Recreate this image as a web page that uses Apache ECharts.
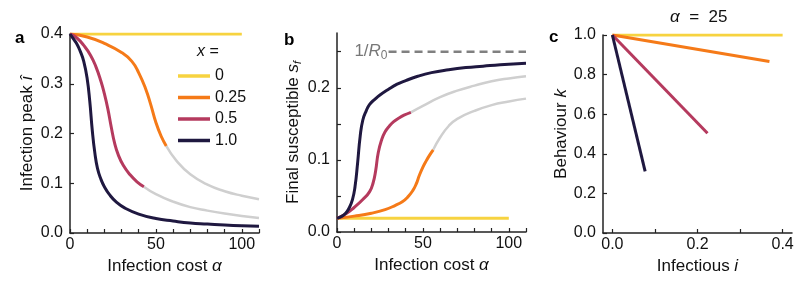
<!DOCTYPE html>
<html>
<head>
<meta charset="utf-8">
<script src="https://cdn.jsdelivr.net/npm/echarts@6/dist/echarts.min.js"></script>
<style>html,body{margin:0;padding:0;background:#fff}#c{width:811px;height:284px}</style>
</head>
<body>
<div id="c"></div>
<script>
// ---------- DATA ----------
const xLevels = ['0', '0.25', '0.5', '1.0'];
const colors = ['#F7D340', '#F57A18', '#B53A5E', '#1F1840'];
const grayColor = '#cfcfcf';
const R0 = 4;

// colored part ends at these alpha values (after them curve is gray)
const cutQuarter = 56;
const cutHalf = 43;

// Panel a: infection peak vs infection cost alpha
const alphaA0 = [0, 100];
const peakA0 = [0.4, 0.4];
const alphaAQuarter = [0, 10, 20, 30, 36, 40, 44, 47, 50, 53, 56, 62, 70, 80, 90, 100, 110];
const peakAQuarter = [0.4, 0.394, 0.381, 0.363, 0.345, 0.322, 0.29, 0.258, 0.222, 0.195, 0.175, 0.145, 0.118, 0.097, 0.084, 0.075, 0.068];
const alphaAHalf = [0, 4, 8, 12, 15, 18, 20, 22, 24, 26, 28, 31, 35, 39, 43, 50, 60, 70, 80, 90, 100, 110];
const peakAHalf = [0.4, 0.392, 0.377, 0.357, 0.335, 0.305, 0.28, 0.25, 0.213, 0.18, 0.158, 0.136, 0.117, 0.103, 0.093, 0.078, 0.063, 0.052, 0.045, 0.039, 0.034, 0.030];
const alphaAOne = [0, 2, 4, 6, 8, 10, 11.5, 13, 14.5, 16, 18, 20, 23, 27, 32, 40, 50, 60, 70, 80, 90, 100, 110];
const peakAOne = [0.4, 0.39, 0.38, 0.365, 0.345, 0.31, 0.265, 0.205, 0.16, 0.13, 0.108, 0.093, 0.077, 0.062, 0.05, 0.038, 0.029, 0.024, 0.020, 0.018, 0.016, 0.0145, 0.0135];

// Panel b: final susceptible vs infection cost alpha
const alphaB0 = [0, 100];
const sfB0 = [0.019, 0.019];
const alphaBQuarter = [0, 10, 20, 28, 34, 38, 41, 44, 46, 48, 50, 52, 54, 56, 60, 65, 70, 80, 90, 100, 110];
const sfBQuarter = [0.019, 0.022, 0.026, 0.031, 0.037, 0.042, 0.048, 0.057, 0.066, 0.079, 0.09, 0.099, 0.107, 0.114, 0.131, 0.147, 0.157, 0.168, 0.176, 0.181, 0.185];
const alphaBHalf = [0, 5, 10, 15, 19, 21, 22.5, 24, 26, 28, 30.5, 33, 36, 39, 43, 50, 60, 70, 80, 90, 100, 110];
const sfBHalf = [0.019, 0.025, 0.034, 0.045, 0.056, 0.068, 0.085, 0.11, 0.128, 0.139, 0.147, 0.153, 0.158, 0.162, 0.166, 0.175, 0.187, 0.196, 0.203, 0.209, 0.213, 0.216];
const alphaBOne = [0, 3, 5, 7, 9, 10.5, 12, 13.5, 15, 17, 19, 22, 25, 30, 35, 40, 47, 55, 65, 75, 85, 95, 110];
const sfBOne = [0.019, 0.022, 0.026, 0.033, 0.045, 0.063, 0.096, 0.133, 0.155, 0.168, 0.177, 0.184, 0.19, 0.198, 0.205, 0.21, 0.216, 0.221, 0.225, 0.228, 0.23, 0.232, 0.234];
const alphaR0Line = [30, 110];

// Panel c: behaviour k vs infectious i (alpha = 25)
const iC0 = [0, 0.4];      const kC0 = [1, 1];
const iCQuarter = [0, 0.369]; const kCQuarter = [1, 0.866];
const iCHalf = [0, 0.2235];   const kCHalf = [1, 0.504];
const iCOne = [0, 0.077];     const kCOne = [1, 0.311];

const xTicksA = [0, 50, 100];
const yTicksA = [0, 0.1, 0.2, 0.3, 0.4];
const yTicksB = [0, 0.1, 0.2];
const xTicksC = [0, 0.2, 0.4];
const yTicksC = [0, 0.2, 0.4, 0.6, 0.8, 1.0];

// ---------- BUILD ----------
const pairs = (xs, ys) => xs.map((x, i) => [x, ys[i]]);
const upTo = (xs, ys, cut) => pairs(xs, ys).filter(p => p[0] <= cut);
const from = (xs, ys, cut) => pairs(xs, ys).filter(p => p[0] >= cut);

const FONT = 'Liberation Sans, Arial, sans-serif';
const TXT = '#111';
const AX = '#222';
const NAME_FS = 17;
const TICK_FS = 16;

function lineSeries(name, data, color, xi, width) {
  return {
    type: 'line', name: name, data: data, xAxisIndex: xi, yAxisIndex: xi,
    smooth: 0.5, showSymbol: false, symbol: 'none', silent: true,
    lineStyle: { color: color, width: width || 3 }, itemStyle: { color: color },
    z: width ? 2 : 3
  };
}

function stepVals(a, b, s) { const r = []; for (let v = a; v <= b + 1e-9; v += s) r.push(+v.toFixed(4)); return r; }
const fmt1 = v => Number(v).toFixed(1);

const axisBase = {
  axisLine: { onZero: false, lineStyle: { color: AX, width: 1.5 } },
  axisTick: { inside: true, length: 4, lineStyle: { color: AX, width: 1.2 } },
  splitLine: { show: false },
  axisLabel: { color: TXT, fontSize: TICK_FS, fontFamily: FONT },
  nameLocation: 'middle',
  nameTextStyle: { color: TXT, fontSize: NAME_FS, fontFamily: FONT,
    rich: {
      it: { fontStyle: 'italic', fontSize: NAME_FS, fontFamily: FONT, color: TXT },
      sub: { fontStyle: 'italic', fontSize: 11, fontFamily: FONT, color: TXT, padding: [8, 0, 0, 0] }
    } }
};
function ax(o) {
  const r = JSON.parse(JSON.stringify(axisBase));
  for (const k in o) {
    if (typeof o[k] === 'object' && !Array.isArray(o[k]) && r[k]) Object.assign(r[k], o[k]); else r[k] = o[k];
  }
  return r;
}

const option = {
  animation: false,
  backgroundColor: '#fff',
  textStyle: { fontFamily: FONT },
  grid: [
    { left: 70, top: 34, width: 189, height: 199 },
    { left: 337, top: 33, width: 189, height: 199 },
    { left: 603, top: 35, width: 189, height: 198 }
  ],
  xAxis: [
    ax({ gridIndex: 0, type: 'value', min: 0, max: 110, name: 'Infection cost {it|α}', nameGap: 22,
      axisLabel: { customValues: xTicksA, margin: 4 }, axisTick: { customValues: stepVals(0, 110, 10) } }),
    ax({ gridIndex: 1, type: 'value', min: 0, max: 110, name: 'Infection cost {it|α}', nameGap: 22,
      axisLabel: { customValues: xTicksA, margin: 4 }, axisTick: { customValues: stepVals(0, 110, 10) } }),
    ax({ gridIndex: 2, type: 'value', min: -0.022, max: 0.422, name: 'Infectious {it|i}', nameGap: 22,
      axisLabel: { customValues: xTicksC, margin: 4, formatter: fmt1 }, axisTick: { customValues: stepVals(0, 0.4, 0.1) } })
  ],
  yAxis: [
    ax({ gridIndex: 0, type: 'value', min: 0, max: 0.4, name: 'Infection peak {it|î}', nameGap: 34,
      axisLabel: { customValues: yTicksA, margin: 7, formatter: fmt1 }, axisTick: { customValues: yTicksA } }),
    ax({ gridIndex: 1, type: 'value', min: 0, max: 0.276, name: 'Final susceptible {it|s}{sub|f}', nameGap: 34,
      axisLabel: { customValues: yTicksB, margin: 7, formatter: fmt1 }, axisTick: { customValues: stepVals(0, 0.25, 0.05) } }),
    ax({ gridIndex: 2, type: 'value', min: 0, max: 1, name: 'Behaviour {it|k}', nameGap: 32,
      axisLabel: { customValues: yTicksC, margin: 7, formatter: fmt1 }, axisTick: { customValues: yTicksC } })
  ],
  legend: {
    data: xLevels, orient: 'vertical', left: 173, top: 63, itemWidth: 32, itemHeight: 3.5, itemGap: 5.5,
    icon: 'rect', selectedMode: false,
    textStyle: { color: TXT, fontSize: 16, fontFamily: FONT, lineHeight: 16 }
  },
  graphic: [
    { type: 'text', left: 15, top: 30, style: { text: 'a', font: 'bold 17px ' + FONT, fill: '#000' } },
    { type: 'text', left: 284, top: 32, style: { text: 'b', font: 'bold 17px ' + FONT, fill: '#000' } },
    { type: 'text', left: 549, top: 29, style: { text: 'c', font: 'bold 17px ' + FONT, fill: '#000' } },
    { type: 'text', left: 197, top: 44, style: { text: '{it|x} =', fill: TXT, font: '16px ' + FONT,
        rich: { it: { fontStyle: 'italic', fontSize: 16, fontFamily: FONT, fill: TXT } } } },
    { type: 'text', left: 670, top: 9, style: { text: '{it|α}  =  25', fill: TXT, font: '17px ' + FONT,
        rich: { it: { fontStyle: 'italic', fontSize: 17, fontFamily: FONT, fill: TXT } } } }
  ],
  series: [
    // panel a
    lineSeries('gray-a-q', from(alphaAQuarter, peakAQuarter, cutQuarter), grayColor, 0, 2.5),
    lineSeries('gray-a-h', from(alphaAHalf, peakAHalf, cutHalf), grayColor, 0, 2.5),
    lineSeries(xLevels[0], pairs(alphaA0, peakA0), colors[0], 0),
    lineSeries(xLevels[1], upTo(alphaAQuarter, peakAQuarter, cutQuarter), colors[1], 0),
    lineSeries(xLevels[2], upTo(alphaAHalf, peakAHalf, cutHalf), colors[2], 0),
    lineSeries(xLevels[3], pairs(alphaAOne, peakAOne), colors[3], 0),
    // panel b
    {
      type: 'line', name: 'r0', xAxisIndex: 1, yAxisIndex: 1, showSymbol: true, symbol: 'circle', symbolSize: 0, silent: true,
      lineStyle: { color: '#808080', width: 2.5, type: [8, 5] }, itemStyle: { color: 'rgba(0,0,0,0)' },
      data: alphaR0Line.map((a, i) => i === 0 ? {
        value: [a, 1 / R0],
        label: { show: true, position: 'left', distance: 1, formatter: '1/{it|R}{s|0}', color: '#777', fontSize: 17, fontFamily: FONT,
          rich: { it: { fontStyle: 'italic', fontSize: 17, color: '#777', fontFamily: FONT },
                  s: { fontSize: 12, color: '#777', fontFamily: FONT, padding: [8, 0, 0, 0] } } }
      } : { value: [a, 1 / R0], label: { show: false } })
    },
    lineSeries('gray-b-q', from(alphaBQuarter, sfBQuarter, cutQuarter), grayColor, 1, 2.5),
    lineSeries('gray-b-h', from(alphaBHalf, sfBHalf, cutHalf), grayColor, 1, 2.5),
    lineSeries(xLevels[0], pairs(alphaB0, sfB0), colors[0], 1),
    lineSeries(xLevels[1], upTo(alphaBQuarter, sfBQuarter, cutQuarter), colors[1], 1),
    lineSeries(xLevels[2], upTo(alphaBHalf, sfBHalf, cutHalf), colors[2], 1),
    lineSeries(xLevels[3], pairs(alphaBOne, sfBOne), colors[3], 1),
    // panel c
    lineSeries(xLevels[0], pairs(iC0, kC0), colors[0], 2),
    lineSeries(xLevels[1], pairs(iCQuarter, kCQuarter), colors[1], 2),
    lineSeries(xLevels[2], pairs(iCHalf, kCHalf), colors[2], 2),
    lineSeries(xLevels[3], pairs(iCOne, kCOne), colors[3], 2)
  ]
};

const chart = echarts.init(document.getElementById('c'), null, { renderer: 'canvas' });
chart.setOption(option);
</script>
</body>
</html>
